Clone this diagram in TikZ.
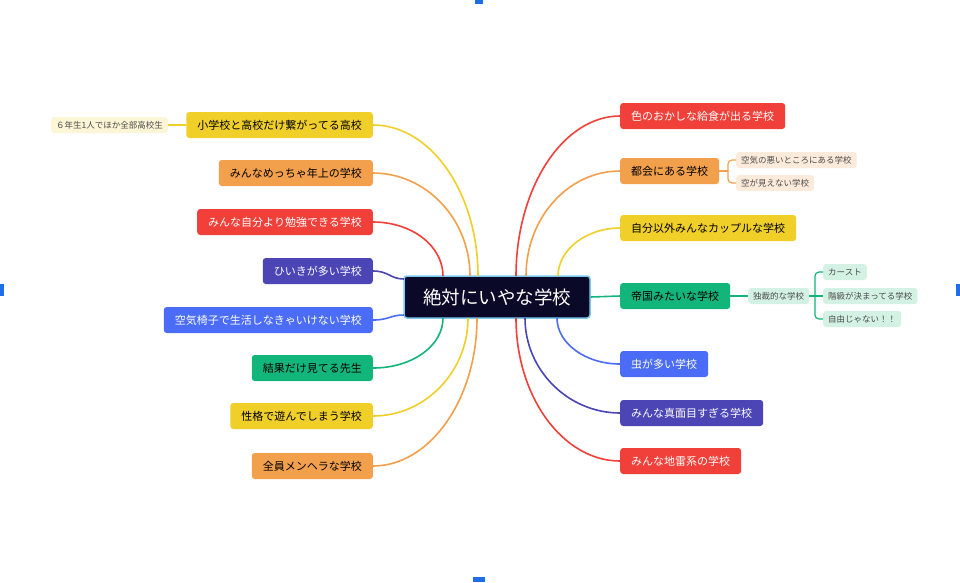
\documentclass[tikz,border=0pt]{standalone}
\usepackage{fontspec}
\usepackage{tikz}
\newfontfamily\jpfont{Noto Sans CJK JP}
\definecolor{myyellow}{HTML}{F0CF28}
\definecolor{myorange}{HTML}{F2A04C}
\definecolor{myred}{HTML}{F1403A}
\definecolor{myindigo}{HTML}{4B45B6}
\definecolor{myblue}{HTML}{4A6CF6}
\definecolor{mygreen}{HTML}{12B57A}
\definecolor{mynavy}{HTML}{0A0A28}
\definecolor{myedge}{HTML}{7CC8F0}
\definecolor{paleyellow}{HTML}{FDF6D6}
\definecolor{paleorange}{HTML}{FCEBDA}
\definecolor{palegreen}{HTML}{D3F2E3}
\definecolor{handle}{HTML}{1E6EE8}

\begin{document}
\begin{tikzpicture}[x=1pt,y=-1pt,
    topic/.style={rectangle, rounded corners=3pt, minimum height=26pt,
        inner xsep=11pt, inner ysep=0pt, font=\jpfont\fontsize{11}{13}\selectfont},
    subtopic/.style={rectangle, rounded corners=3pt, minimum height=16pt,
        inner xsep=5pt, inner ysep=0pt, text=black!70,
        font=\jpfont\fontsize{8.5}{10}\selectfont},
    link/.style={line width=1.6pt},
    sublink/.style={line width=1.2pt, rounded corners=4pt}]
        \useasboundingbox (0,0) rectangle (960,582);
        \fill[white] (0,0) rectangle (960,582);

        % Selection handles
        \fill[handle] (475,0) rectangle (483,4);
        \fill[handle] (0,284) rectangle (4,296);
        \fill[handle] (956,284) rectangle (960,296);
        \fill[handle] (473,577) rectangle (485,582);

        % Root
        \node[fill=mynavy, draw=myedge, line width=1.5pt, rounded corners=3pt,
            minimum width=186pt, minimum height=42pt, text=white,
            font=\jpfont\fontsize{18.5}{20}\selectfont] (root) at (497,297) {絶対にいやな学校};

        % Coordinates on the root
        \coordinate (TL1) at (478,276);
        \coordinate (TL2) at (470,276);
        \coordinate (TL3) at (443,276);
        \coordinate (SL4) at (404,279);
        \coordinate (SL5) at (404,315);
        \coordinate (BL6) at (443,318);
        \coordinate (BL7) at (468,318);
        \coordinate (BL8) at (477,318);
        \coordinate (TR1) at (516,276);
        \coordinate (TR2) at (526,276);
        \coordinate (TR3) at (558,276);
        \coordinate (BR5) at (557,318);
        \coordinate (BR6) at (525,318);
        \coordinate (BR7) at (516,318);

        % Left side
        \node[topic, fill=myyellow, anchor=east] (l1) at (373,125) {小学校と高校だけ繋がってる高校};
        \node[subtopic, fill=paleyellow, anchor=east] (l1a) at (168,125) {６年生1人でほか全部高校生};
        \node[topic, fill=myorange, anchor=east] (l2) at (373,173) {みんなめっちゃ年上の学校};
        \node[topic, fill=myred, text=white, anchor=east] (l3) at (373,222) {みんな自分より勉強できる学校};
        \node[topic, fill=myindigo, text=white, anchor=east] (l4) at (373,271) {ひいきが多い学校};
        \node[topic, fill=myblue, text=white, anchor=east] (l5) at (373,320) {空気椅子で生活しなきゃいけない学校};
        \node[topic, fill=mygreen, anchor=east] (l6) at (373,368) {結果だけ見てる先生};
        \node[topic, fill=myyellow, anchor=east] (l7) at (373,416) {性格で遊んでしまう学校};
        \node[topic, fill=myorange, anchor=east] (l8) at (373,466) {全員メンヘラな学校};

        % Right side
        \node[topic, fill=myred, text=white, anchor=west] (r1) at (620,116) {色のおかしな給食が出る学校};
        \node[topic, fill=myorange, anchor=west] (r2) at (620,171) {都会にある学校};
        \node[subtopic, fill=paleorange, anchor=west] (r2a) at (736,160) {空気の悪いところにある学校};
        \node[subtopic, fill=paleorange, anchor=west] (r2b) at (736,183) {空が見えない学校};
        \node[topic, fill=myyellow, anchor=west] (r3) at (620,228) {自分以外みんなカップルな学校};
        \node[topic, fill=mygreen, anchor=west] (r4) at (620,296) {帝国みたいな学校};
        \node[subtopic, fill=palegreen, anchor=west] (r4a) at (748,296) {独裁的な学校};
        \node[subtopic, fill=palegreen, anchor=west] (r4x) at (823,272) {カースト};
        \node[subtopic, fill=palegreen, anchor=west] (r4y) at (823,296) {階級が決まってる学校};
        \node[subtopic, fill=palegreen, anchor=west] (r4z) at (823,319) {自由じゃない！！};
        \node[topic, fill=myblue, text=white, anchor=west] (r5) at (620,364) {虫が多い学校};
        \node[topic, fill=myindigo, text=white, anchor=west] (r6) at (620,413) {みんな真面目すぎる学校};
        \node[topic, fill=myred, text=white, anchor=west] (r7) at (620,461) {みんな地雷系の学校};

        \coordinate (J2) at (728,171);
        \coordinate (J4) at (815,296);

        % Connectors, left
        \draw[link, myyellow] (l1.east) .. controls +(58,0) and +(0,-83) .. (TL1);
        \draw[link, myorange] (l2.east) .. controls +(53,0) and +(0,-57) .. (TL2);
        \draw[link, myred] (l3.east) .. controls +(39,0) and +(0,-30) .. (TL3);
        \draw[link, myindigo] (l4.east) .. controls +(16,0) and +(-14,0) .. (SL4);
        \draw[link, myblue] (l5.east) .. controls +(16,0) and +(-14,0) .. (SL5);
        \draw[link, mygreen] (l6.east) .. controls +(39,0) and +(0,28) .. (BL6);
        \draw[link, myyellow] (l7.east) .. controls +(52,0) and +(0,54) .. (BL7);
        \draw[link, myorange] (l8.east) .. controls +(57,0) and +(0,81) .. (BL8);
        \draw[sublink, myyellow] (l1.west) -- (l1a.east);

        % Connectors, right
        \draw[link, myred] (r1.west) .. controls +(-57,0) and +(0,-88) .. (TR1);
        \draw[link, myorange] (r2.west) .. controls +(-52,0) and +(0,-58) .. (TR2);
        \draw[link, myyellow] (r3.west) .. controls +(-34,0) and +(0,-26) .. (TR3);
        \draw[link, mygreen] (root.east) -- (r4.west);
        \draw[link, myblue] (r5.west) .. controls +(-35,0) and +(0,25) .. (BR5);
        \draw[link, myindigo] (r6.west) .. controls +(-52,0) and +(0,52) .. (BR6);
        \draw[link, myred] (r7.west) .. controls +(-57,0) and +(0,79) .. (BR7);

        % Sub branches
        \draw[sublink, myorange] (r2.east) -- (J2);
        \draw[sublink, myorange] (r2a.west) -| (J2) |- (r2b.west);
        \draw[sublink, mygreen] (r4.east) -- (r4a.west);
        \draw[sublink, mygreen] (r4a.east) -- (J4) -- (r4y.west);
        \draw[sublink, mygreen] (r4x.west) -| (J4) |- (r4z.west);
\end{tikzpicture}
\end{document}
